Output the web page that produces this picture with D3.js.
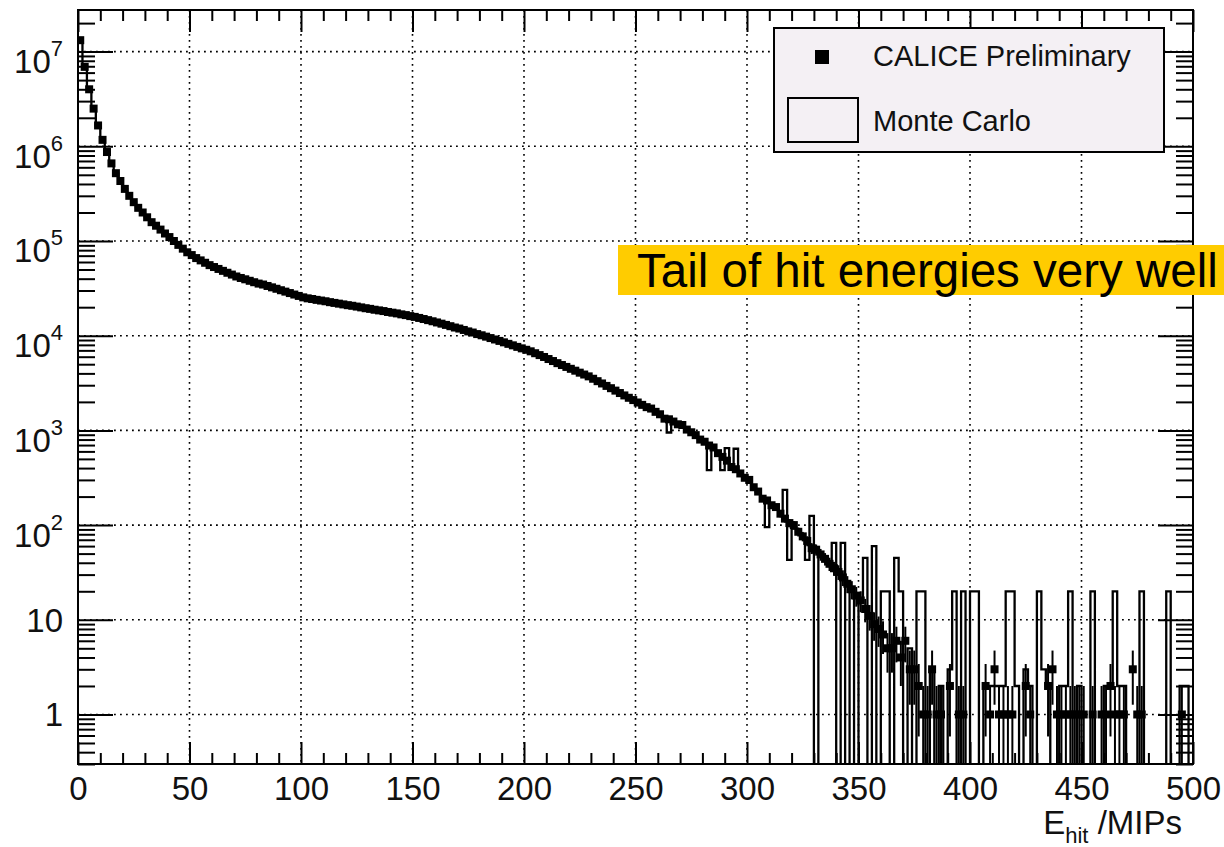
<!DOCTYPE html>
<html><head><meta charset="utf-8">
<script src="https://cdn.jsdelivr.net/npm/d3@7"></script>
<style>body{margin:0;background:#fff} text{font-family:"Liberation Sans",Arial,Helvetica,sans-serif}</style>
</head><body><svg id="c" width="1224" height="847"></svg>
<script>
// ---------- data ----------
const binWidth = 2;                       // MIPs per bin
const binLow = d3.range(0, 500, binWidth); // lower edges of the 250 bins
const dataCounts = [
 13200000,6900000,4000000,2500000,1660000,1170000,870000,660000,520000,430000,
 355000,300000,257000,224000,200000,178000,158000,145000,132000,120000,
 110000,100000,91000,83000,76000,71000,66000,62400,58900,55600,
 53100,50700,48400,46200,44200,42200,40700,39400,38000,36700,
 35500,34700,33500,32400,31300,30200,29200,28200,27200,26300,
 25400,24800,24400,23900,23500,23100,22600,22200,21800,21400,
 21000,20700,20300,19900,19500,19200,18800,18500,18200,17800,
 17500,17200,16800,16500,16100,15800,15400,15000,14600,14200,
 13800,13400,13000,12600,12200,11900,11500,11100,10800,10400,
 10100,9770,9440,9120,8810,8510,8200,7910,7620,7350,
 7100,6840,6530,6240,5960,5670,5400,5130,4900,4680,
 4470,4270,4070,3890,3720,3510,3310,3130,2950,2790,
 2630,2480,2340,2210,2090,1970,1860,1760,1700,1570,
 1480,1330,1310,1240,1160,1140,1020,955,891,800,
 759,692,660,575,525,479,410,389,351,316,
 300,251,226,190,182,162,155,132,117,105,
 100,85,76,68,57,55,49,44,39,35,
 32,28,24,21,18,16,13,11,9,8,
 7,5,5,6,4,6,3,3,2,1,
 1,3,1,1,0,2,0,1,1,0,
 0,0,0,2,1,3,1,1,1,1,
 0,0,2,1,0,0,0,2,3,1,
 1,1,1,1,1,1,0,1,0,1,
 1,2,1,1,1,0,3,1,1,0,
 0,0,0,0,0,0,0,1,0,0
];
const mcCounts = [
 13000000,7000000,3950000,2520000,1650000,1180000,860000,665000,515000,432000,
 352000,302000,255000,226000,198000,179000,157000,146000,131000,121000,
 109000,101000,90500,83500,75500,71500,65500,62800,58500,56000,
 52800,51000,48100,46500,44000,42500,40500,39600,37800,36900,
 35300,34900,33300,32600,31100,30400,29000,28400,27000,26500,
 25200,25000,24200,24100,23300,23300,22400,22400,21600,21600,
 20800,20900,20100,20100,19300,19400,18600,18700,18000,18000,
 17300,17400,16600,16700,15900,16000,15200,15200,14400,14400,
 13600,13600,12800,12800,12000,12100,11300,11300,10600,10600,
 9900,9950,9250,9300,8650,8650,8050,8050,7450,7500,
 6950,6950,6400,6350,5850,5750,5300,5200,4800,4750,
 4400,4300,4000,3950,3650,3550,3250,3150,2900,2800,
 2600,2500,2300,2230,2060,1990,1830,1780,1640,1580,
 1450,1400,950,1250,1150,1120,1060,960,880,820,
 740,380,640,580,380,650,440,640,360,320,
 280,250,225,200,95,165,145,130,235,43,
 92,85,74,43,125,0,50,45,38,65,
 0,65,0,22,0,16,45,0,60,0,
 20,20,0,45,20,0,5,0,20,20,
 0,3,0,2,0,3,20,0,20,0,
 20,20,0,2,2,2,2,2,20,20,
 2,0,3,2,0,20,3,2,0,0,
 2,2,20,0,2,0,0,20,0,0,
 2,2,20,2,2,0,0,0,20,0,
 0,0,0,0,20,0,0,2,2,0
];
const xTicks = [0,50,100,150,200,250,300,350,400,450,500];
const xTickLabels = ["0","50","100","150","200","250","300","350","400","450","500"];
const yMajor = [1,10,100,1000,10000,100000,1000000,10000000];
const legendLabels = ["CALICE Preliminary","Monte Carlo"];
const annotationText = "Tail of hit energies very well";
const axisTitle = {main:"E", sub:"hit", rest:" /MIPs"};

// ---------- layout ----------
const L=78,R=1193,T=10,B=764;
const x=d3.scaleLinear().domain([0,500]).range([L,R]);
const y=d3.scaleLog().domain([0.3,2.75e7]).range([B,T]);
const svg=d3.select('#c');
svg.append('defs').append('clipPath').attr('id','clip')
  .append('rect').attr('x',L).attr('y',T).attr('width',R-L).attr('height',B-T);

// grid
const grid=svg.append('g').attr('stroke','#000').attr('stroke-width',1.6).attr('stroke-dasharray','1.8,4.2');
grid.selectAll('line.gx').data(xTicks.slice(1,-1)).join('line').attr('class','gx')
  .attr('x1',d=>x(d)).attr('x2',d=>x(d)).attr('y1',T).attr('y2',B);
grid.selectAll('line.gy').data(yMajor).join('line').attr('class','gy')
  .attr('x1',L).attr('x2',R).attr('y1',d=>y(d)).attr('y2',d=>y(d));

// Monte Carlo histogram (step line)
const yc = v => v>0 ? Math.max(y(v),T) : B+3;
const mcPts = binLow.map((b,i)=>[b,mcCounts[i]]);
mcPts.push([500, mcCounts[mcCounts.length-1]]);
const stepLine=d3.line().x(d=>x(d[0])).y(d=>yc(d[1])).curve(d3.curveStepAfter);
svg.append('path').attr('d',stepLine(mcPts)).attr('fill','none').attr('stroke','#000')
  .attr('stroke-width',2.3).attr('clip-path','url(#clip)');

// data points
const pts = binLow.map((b,i)=>({lo:b,hi:b+binWidth,c:b+binWidth/2,v:dataCounts[i]})).filter(d=>d.v>0);
const dg=svg.append('g').attr('clip-path','url(#clip)');
dg.selectAll('line.ev').data(pts).join('line').attr('class','ev')
  .attr('x1',d=>x(d.c)).attr('x2',d=>x(d.c))
  .attr('y1',d=>y(d.v+Math.sqrt(d.v)))
  .attr('y2',d=>{const lo=d.v-Math.sqrt(d.v); return lo>0.3?y(lo):B+3;})
  .attr('stroke','#000').attr('stroke-width',2);
dg.selectAll('line.eh').data(pts).join('line').attr('class','eh')
  .attr('x1',d=>x(d.lo)-1).attr('x2',d=>x(d.hi)+1).attr('y1',d=>y(d.v)).attr('y2',d=>y(d.v))
  .attr('stroke','#000').attr('stroke-width',2.5);
dg.selectAll('rect.m').data(pts).join('rect').attr('class','m')
  .attr('x',d=>x(d.c)-4).attr('y',d=>y(d.v)-4).attr('width',8).attr('height',8).attr('fill','#000');

// axes
const minorX = d3.range(0,501,10).filter(v=>v%50!==0);
const yMinor = [];
for(let k=-1;k<=7;k++) for(let m=2;m<=9;m++){const v=m*Math.pow(10,k); if(v>=0.3&&v<=2.75e7) yMinor.push(v);}
function styleAxis(g){ g.select('.domain').remove(); g.selectAll('.tick line').attr('stroke','#000').attr('stroke-width',2); }

const xb=svg.append('g').attr('transform',`translate(0,${B})`)
  .call(d3.axisBottom(x).tickValues(xTicks).tickSize(-22).tickSizeOuter(0).tickFormat((d,i)=>xTickLabels[i]));
styleAxis(xb);
xb.selectAll('text').attr('y',0).attr('dy',36).attr('font-size',33).attr('fill','#111');
svg.append('g').attr('transform',`translate(0,${B})`)
  .call(d3.axisBottom(x).tickValues(minorX).tickSize(-11).tickSizeOuter(0).tickFormat('')).call(styleAxis);
svg.append('g').attr('transform',`translate(0,${T})`)
  .call(d3.axisTop(x).tickValues(xTicks).tickSize(-22).tickSizeOuter(0).tickFormat('')).call(styleAxis);
svg.append('g').attr('transform',`translate(0,${T})`)
  .call(d3.axisTop(x).tickValues(minorX).tickSize(-11).tickSizeOuter(0).tickFormat('')).call(styleAxis);

const yl=svg.append('g').attr('transform',`translate(${L},0)`)
  .call(d3.axisLeft(y).tickValues(yMajor).tickSize(-35).tickSizeOuter(0).tickFormat(d=>d));
styleAxis(yl);
yl.selectAll('text').each(function(d){
  const k=Math.round(Math.log10(d)); const t=d3.select(this);
  t.text(null).attr('x',-15).attr('y',0).attr('dy',null).attr('font-size',33).attr('fill','#111').attr('text-anchor','end');
  if(k<2){ t.append('tspan').attr('dy',11.5).text(k===0?'1':'10'); }
  else { t.append('tspan').attr('dy',21).text('10'); t.append('tspan').attr('dy',-17).attr('font-size',22).text(k); }
});
svg.append('g').attr('transform',`translate(${L},0)`)
  .call(d3.axisLeft(y).tickValues(yMinor).tickSize(-17).tickSizeOuter(0).tickFormat('')).call(styleAxis);
svg.append('g').attr('transform',`translate(${R},0)`)
  .call(d3.axisRight(y).tickValues(yMajor).tickSize(-35).tickSizeOuter(0).tickFormat('')).call(styleAxis);
svg.append('g').attr('transform',`translate(${R},0)`)
  .call(d3.axisRight(y).tickValues(yMinor).tickSize(-17).tickSizeOuter(0).tickFormat('')).call(styleAxis);

// frame
svg.append('rect').attr('x',L).attr('y',T).attr('width',R-L).attr('height',B-T)
  .attr('fill','none').attr('stroke','#000').attr('stroke-width',2);

// axis title
const at=svg.append('text').attr('x',1182).attr('y',834).attr('text-anchor','end').attr('font-size',33).attr('fill','#111');
at.append('tspan').text(axisTitle.main);
at.append('tspan').attr('dy',9).attr('font-size',22).text(axisTitle.sub);
at.append('tspan').attr('dy',-9).text(axisTitle.rest);

// legend
const lg=svg.append('g');
lg.append('rect').attr('x',774).attr('y',28).attr('width',390).attr('height',124)
  .attr('fill','#f4f0f4').attr('stroke','#000').attr('stroke-width',2);
lg.append('rect').attr('x',815).attr('y',50).attr('width',14).attr('height',14).attr('fill','#000');
lg.append('rect').attr('x',788).attr('y',98).attr('width',70).attr('height',44)
  .attr('fill','none').attr('stroke','#000').attr('stroke-width',2);
lg.selectAll('text.lt').data(legendLabels).join('text').attr('class','lt')
  .attr('x',873).attr('y',(d,i)=>i===0?66:131).attr('font-size',29).attr('fill','#111').text(d=>d);

// annotation
svg.append('rect').attr('x',618).attr('y',245).attr('width',620).attr('height',50).attr('fill','#FFCC00');
svg.append('text').attr('x',637).attr('y',287).attr('font-size',47.5).attr('fill','#000').text(annotationText);
</script></body></html>
